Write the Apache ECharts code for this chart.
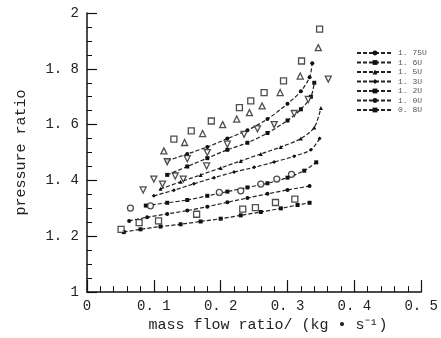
<!DOCTYPE html>
<html>
<head>
<meta charset="utf-8">
<script src="https://cdn.jsdelivr.net/npm/echarts@6/dist/echarts.min.js"></script>
<style>
  html, body { margin: 0; background: #fff; }
  #chart { width: 441px; height: 338px; }
</style>
</head>
<body>
<div id="chart"></div>
<script>
// speed lines (calculated), [mass flow ratio, pressure ratio]
const seriesNames = ['1. 75U', '1. 6U', '1. 5U', '1. 3U', '1. 2U', '1. 0U', '0. 8U'];
const curve1 = [[0.12, 1.47], [0.15, 1.495], [0.18, 1.52], [0.21, 1.55], [0.24, 1.58], [0.27, 1.62], [0.30, 1.675], [0.32, 1.72], [0.333, 1.77], [0.337, 1.82]];
const curve2 = [[0.12, 1.42], [0.15, 1.45], [0.18, 1.48], [0.21, 1.51], [0.24, 1.535], [0.27, 1.57], [0.30, 1.615], [0.32, 1.655], [0.335, 1.70], [0.34, 1.75]];
const curve3 = [[0.11, 1.37], [0.14, 1.395], [0.17, 1.42], [0.20, 1.445], [0.23, 1.47], [0.26, 1.495], [0.29, 1.52], [0.32, 1.55], [0.34, 1.59], [0.35, 1.66]];
const curve4 = [[0.10, 1.345], [0.13, 1.365], [0.16, 1.388], [0.19, 1.41], [0.22, 1.43], [0.25, 1.447], [0.28, 1.466], [0.31, 1.487], [0.335, 1.51], [0.348, 1.55]];
const curve5 = [[0.088, 1.31], [0.12, 1.32], [0.15, 1.33], [0.18, 1.345], [0.21, 1.36], [0.24, 1.375], [0.27, 1.39], [0.30, 1.41], [0.325, 1.435], [0.343, 1.465]];
const curve6 = [[0.063, 1.255], [0.09, 1.268], [0.12, 1.28], [0.15, 1.292], [0.18, 1.306], [0.21, 1.322], [0.24, 1.337], [0.27, 1.352], [0.30, 1.366], [0.333, 1.38]];
const curve7 = [[0.055, 1.215], [0.08, 1.225], [0.11, 1.235], [0.14, 1.243], [0.17, 1.253], [0.20, 1.263], [0.23, 1.275], [0.26, 1.287], [0.29, 1.30], [0.315, 1.312], [0.333, 1.32]];

// measured points (hollow symbols)
const expSquare = [[0.130, 1.548], [0.156, 1.578], [0.186, 1.613], [0.228, 1.661], [0.245, 1.685], [0.265, 1.715], [0.294, 1.757], [0.321, 1.828], [0.348, 1.942]];
const expTriangle = [[0.115, 1.506], [0.146, 1.536], [0.173, 1.568], [0.203, 1.60], [0.224, 1.62], [0.243, 1.643], [0.262, 1.667], [0.289, 1.715], [0.319, 1.774], [0.346, 1.876]];
const expTriDown = [[0.120, 1.467], [0.15, 1.478], [0.18, 1.50], [0.21, 1.53], [0.235, 1.565], [0.255, 1.585], [0.28, 1.60], [0.31, 1.64], [0.331, 1.69], [0.361, 1.763], [0.084, 1.366], [0.100, 1.405], [0.113, 1.387], [0.132, 1.416], [0.144, 1.405], [0.179, 1.452]];
const expCircle = [[0.065, 1.301], [0.095, 1.309], [0.198, 1.357], [0.230, 1.363], [0.260, 1.387], [0.284, 1.405], [0.306, 1.422]];
const expSmall = [[0.051, 1.225], [0.078, 1.249], [0.107, 1.255], [0.164, 1.279], [0.233, 1.297], [0.252, 1.303], [0.282, 1.321], [0.311, 1.333]];

const curves = [curve1, curve2, curve3, curve4, curve5, curve6, curve7];
const curveSymbols = ['circle', 'rect', 'triangle', 'diamond', 'rect', 'circle', 'rect'];

const chart = echarts.init(document.getElementById('chart'));
const font = 'Liberation Mono';
const fmt = v => String(+v.toFixed(1)).replace('.', '. ');

const lineSeries = curves.map((data, i) => ({
  name: seriesNames[i],
  type: 'line',
  data: data,
  smooth: 0.3,
  symbol: curveSymbols[i],
  symbolSize: 4,
  itemStyle: { color: '#111' },
  lineStyle: { color: '#222', width: 1.2, type: [4, 2] },
  z: 3
}));

const hollow = (name, data, symbol, rotate) => ({
  name: name,
  type: 'scatter',
  data: data,
  symbol: symbol,
  symbolSize: 6,
  symbolRotate: rotate || 0,
  itemStyle: { color: '#fff', borderColor: '#222', borderWidth: 1.3 },
  z: 4
});

chart.setOption({
  backgroundColor: '#fff',
  animation: false,
  grid: { left: 87, right: 14, top: 13, bottom: 45 },
  legend: {
    data: seriesNames,
    orient: 'vertical',
    left: 351,
    top: 44,
    itemWidth: 36,
    itemHeight: 6,
    itemGap: 1.5,
    textStyle: { fontFamily: font, fontSize: 8, color: '#555' }
  },
  xAxis: {
    type: 'value',
    min: 0,
    max: 0.5,
    interval: 0.1,
    name: 'mass flow ratio/ (kg • s⁻¹)',
    nameLocation: 'middle',
    nameGap: 24,
    nameTextStyle: { fontFamily: font, fontSize: 15, color: '#222', padding: [0, 0, 0, 28] },
    axisLine: { lineStyle: { color: '#111', width: 1.5 } },
    axisTick: { inside: true, length: 12, lineStyle: { color: '#111', width: 1.2 } },
    minorTick: { show: true, splitNumber: 5, length: 6, lineStyle: { color: '#111', width: 1 } },
    axisLabel: { formatter: fmt, fontFamily: font, fontSize: 14, color: '#222', margin: 7 },
    splitLine: { show: false }
  },
  yAxis: {
    type: 'value',
    min: 1,
    max: 2,
    interval: 0.2,
    name: 'pressure ratio',
    nameLocation: 'middle',
    nameGap: 58,
    nameTextStyle: { fontFamily: font, fontSize: 15, color: '#222' },
    axisLine: { show: true, lineStyle: { color: '#111', width: 1.5 } },
    axisTick: { show: true, inside: true, length: 10, lineStyle: { color: '#111', width: 1.2 } },
    minorTick: { show: true, splitNumber: 4, length: 5, lineStyle: { color: '#111', width: 1 } },
    axisLabel: { formatter: fmt, fontFamily: font, fontSize: 14, color: '#222', margin: 8 },
    splitLine: { show: false }
  },
  series: lineSeries.concat([
    hollow('exp-a', expSquare, 'rect'),
    hollow('exp-b', expTriangle, 'triangle'),
    hollow('exp-c', expTriDown, 'triangle', 180),
    hollow('exp-d', expCircle, 'circle'),
    hollow('exp-e', expSmall, 'rect')
  ])
});
</script>
</body>
</html>
